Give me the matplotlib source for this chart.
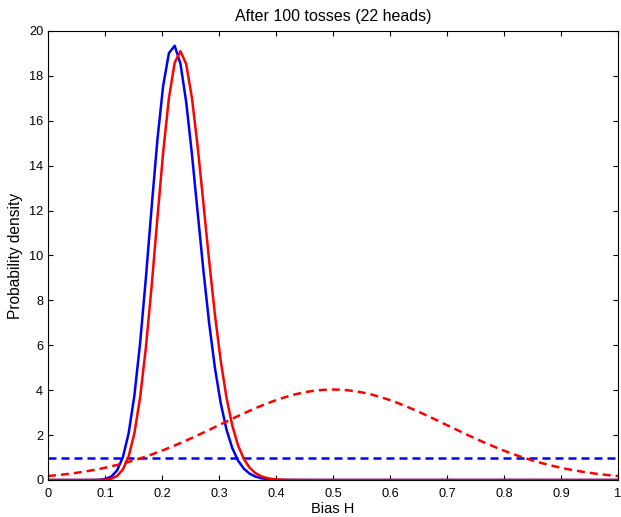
import numpy as np
import matplotlib
matplotlib.use("Agg")
import matplotlib.pyplot as plt

# ---- data (100 samples on [0, 1]) ----
n_points = 100
title_text = "After 100 tosses (22 heads)"
x_label = "Bias H"
y_label = "Probability density"
x_ticks = [0, 0.1, 0.2, 0.3, 0.4, 0.5, 0.6, 0.7, 0.8, 0.9, 1]
x_tick_labels = ["0", "0.1", "0.2", "0.3", "0.4", "0.5", "0.6", "0.7", "0.8", "0.9", "1"]
y_ticks = [0, 2, 4, 6, 8, 10, 12, 14, 16, 18, 20]

# uniform prior (blue dashed)
uniform_x = [0.0, 1.0]
uniform_prior = [1.0, 1.0]

# posterior with uniform prior (blue solid)
posterior_uniform = [
    0, 0, 0, 0, 0, 0, 0, 0.0002, 0.0019, 0.0107,
    0.0456, 0.154, 0.428, 1.011, 2.072, 3.756, 6.105, 9.000, 12.155, 15.154,
    17.559, 19.016, 19.341, 18.551, 16.840, 14.510, 11.899, 9.308, 6.959, 4.981,
    3.418, 2.252, 1.426, 0.868, 0.509, 0.287, 0.156, 0.082, 0.0415, 0.0202,
    0.0095, 0.0043, 0.0019, 0.0008, 0.0003, 0, 0, 0, 0, 0,
    0, 0, 0, 0, 0, 0, 0, 0, 0, 0,
    0, 0, 0, 0, 0, 0, 0, 0, 0, 0,
    0, 0, 0, 0, 0, 0, 0, 0, 0, 0,
    0, 0, 0, 0, 0, 0, 0, 0, 0, 0,
    0, 0, 0, 0, 0, 0, 0, 0, 0, 0,
]

# bell-shaped prior (red dashed)
prior_bell = [
    0.177, 0.201, 0.227, 0.256, 0.287, 0.322, 0.361, 0.403, 0.448, 0.497,
    0.551, 0.609, 0.671, 0.737, 0.808, 0.883, 0.963, 1.048, 1.137, 1.230,
    1.328, 1.430, 1.536, 1.646, 1.758, 1.874, 1.993, 2.113, 2.235, 2.358,
    2.481, 2.605, 2.727, 2.848, 2.966, 3.082, 3.194, 3.302, 3.405, 3.501,
    3.592, 3.675, 3.751, 3.819, 3.877, 3.927, 3.968, 3.998, 4.018, 4.029,
    4.029, 4.018, 3.998, 3.968, 3.927, 3.877, 3.819, 3.751, 3.675, 3.592,
    3.501, 3.405, 3.302, 3.194, 3.082, 2.966, 2.848, 2.727, 2.605, 2.481,
    2.358, 2.235, 2.113, 1.993, 1.874, 1.758, 1.646, 1.536, 1.430, 1.328,
    1.230, 1.137, 1.048, 0.963, 0.883, 0.808, 0.737, 0.671, 0.609, 0.551,
    0.497, 0.448, 0.403, 0.361, 0.322, 0.287, 0.256, 0.227, 0.201, 0.177,
]

# posterior with bell prior (red solid)
posterior_bell = [
    0, 0, 0, 0, 0, 0, 0, 0.0001, 0.0005, 0.0033,
    0.0157, 0.0585, 0.180, 0.466, 1.047, 2.075, 3.679, 5.900, 8.645, 11.665,
    14.591, 17.016, 18.588, 19.100, 18.527, 17.015, 14.833, 12.305, 9.731, 7.348,
    5.307, 3.670, 2.432, 1.547, 0.944, 0.554, 0.312, 0.169, 0.088, 0.044,
    0.021, 0.010, 0.004, 0.0019, 0.0008, 0.0003, 0, 0, 0, 0,
    0, 0, 0, 0, 0, 0, 0, 0, 0, 0,
    0, 0, 0, 0, 0, 0, 0, 0, 0, 0,
    0, 0, 0, 0, 0, 0, 0, 0, 0, 0,
    0, 0, 0, 0, 0, 0, 0, 0, 0, 0,
    0, 0, 0, 0, 0, 0, 0, 0, 0, 0,
]

x = np.linspace(0, 1, n_points)

plt.rcParams['font.family'] = ['Liberation Sans', 'DejaVu Sans']

fig = plt.figure(figsize=(6.21, 5.17), dpi=100)
ax = fig.add_axes([48 / 621, 37 / 517, 570 / 621, 449 / 517])

lw = 1.8
dash = (3.2, 2.0)
ax.plot(uniform_x, uniform_prior, color='#0000ff', lw=lw, dashes=dash)
ax.plot(x, posterior_uniform, color='#0000ff', lw=lw)
ax.plot(x, prior_bell, color='#ff0000', lw=lw, dashes=dash)
ax.plot(x, posterior_bell, color='#ff0000', lw=lw)

ax.set_xlim(0, 1)
ax.set_ylim(0, 20)
ax.set_xticks(x_ticks)
ax.set_xticklabels(x_tick_labels)
ax.set_yticks(y_ticks)
ax.tick_params(direction='in', top=True, right=True, length=3.8, width=0.8,
               labelsize=9.2)
ax.tick_params(axis='x', pad=5.5)
ax.tick_params(axis='y', pad=3.5)
for s in ax.spines.values():
    s.set_linewidth(0.8)

ax.set_title(title_text, fontsize=11.5, pad=7)
ax.set_xlabel(x_label, fontsize=10.5, labelpad=2)
ax.set_ylabel(y_label, fontsize=11.2, labelpad=4)

fig.savefig("out.png", dpi=100)
